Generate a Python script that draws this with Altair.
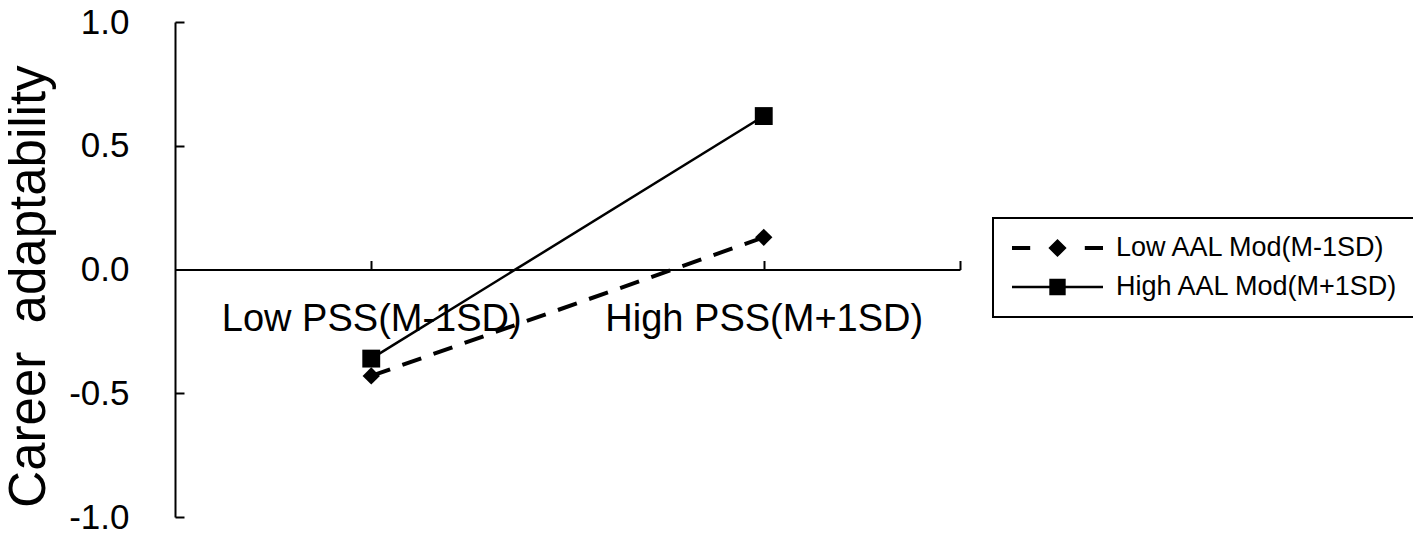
import altair as alt
import pandas as pd

# ---- data ----
categories = ["Low PSS(M-1SD)", "High PSS(M+1SD)"]
cat_pos = [0.5, 1.5]
series_names = ["Low AAL Mod(M-1SD)", "High AAL Mod(M+1SD)"]
low_aal = [-0.43, 0.13]
high_aal = [-0.36, 0.62]
y_ticks = [-1.0, -0.5, 0.0, 0.5, 1.0]
y_title = "Career\u00a0 adaptability"

rows = []
for s, vals in zip(series_names, [low_aal, high_aal]):
    for c, p, v in zip(categories, cat_pos, vals):
        rows.append({"series": s, "category": c, "pos": p, "value": v})
df = pd.DataFrame(rows)

FONT = "Liberation Sans"
W, H = 785, 495
zero_px = H / 2

x_scale = alt.Scale(domain=[0, 2], nice=False, zero=False)
y_scale = alt.Scale(domain=[-1, 1], nice=False, zero=False)

label_expr = (
    f"datum.value == {cat_pos[0]} ? '{categories[0]}' : "
    f"datum.value == {cat_pos[1]} ? '{categories[1]}' : ''"
)

x_axis_labels = alt.Axis(
    orient="bottom", offset=-zero_px, values=cat_pos, labelExpr=label_expr,
    ticks=False, tickSize=0, labelPadding=31, labelFontSize=38, labelFont=FONT,
    labelColor="black", domainColor="black", domainWidth=2, grid=False,
    title=None, labelFlush=False, labelOverlap=False, labelLimit=800,
)
x_axis_ticks = alt.Axis(
    orient="top", offset=-zero_px, values=[0.5, 1.5, 2.0], labels=False,
    domain=False, tickSize=9, tickWidth=2, tickColor="black", grid=False, title=None,
)
y_axis_labels = alt.Axis(
    orient="left", values=y_ticks, ticks=False, tickSize=0, labelPadding=46,
    labelExpr="(datum.value < 0 ? '-' : '') + format(abs(datum.value), '.1f')",
    labelFontSize=35, labelFont=FONT, labelColor="black",
    domainColor="black", domainWidth=2, grid=False,
    title=y_title, titleFont=FONT, titleFontSize=51, titleFontWeight="normal",
    titleColor="black", titleX=-120, titleY=264, titleLimit=800,
)
y_axis_ticks = alt.Axis(
    orient="right", offset=-W, values=[-1.0, -0.5, 0.5, 1.0], labels=False,
    domain=False, tickSize=9, tickWidth=2, tickColor="black", grid=False, title=None,
)

base = alt.Chart(df)

low_df = f"datum.series == '{series_names[0]}'"
high_df = f"datum.series == '{series_names[1]}'"

low_line = base.transform_filter(low_df).mark_line(
    color="black", strokeWidth=4, strokeDash=[20, 13]
).encode(
    x=alt.X("pos:Q", scale=x_scale, axis=x_axis_labels),
    y=alt.Y("value:Q", scale=y_scale, axis=y_axis_labels),
)
high_line = base.transform_filter(high_df).mark_line(
    color="black", strokeWidth=2.5
).encode(
    x=alt.X("pos:Q", scale=x_scale, axis=None),
    y=alt.Y("value:Q", scale=y_scale, axis=None),
)
low_pts = base.transform_filter(low_df).mark_point(
    shape="diamond", filled=True, color="black", size=300, opacity=1
).encode(
    x=alt.X("pos:Q", scale=x_scale, axis=None),
    y=alt.Y("value:Q", scale=y_scale, axis=None),
)
high_pts = base.transform_filter(high_df).mark_point(
    shape="square", filled=True, color="black", size=320, opacity=1
).encode(
    x=alt.X("pos:Q", scale=x_scale, axis=x_axis_ticks),
    y=alt.Y("value:Q", scale=y_scale, axis=y_axis_ticks),
)

# legend glyphs: filled outlines of line segment(s) plus marker
legend_paths = [
    "M-1,-0.045H-0.6V0.045H-1ZM0.6,-0.045H1V0.045H0.6ZM0,-0.2L0.2,0L0,0.2L-0.2,0Z",
    "M-1,-0.03H1V0.03H-1ZM-0.18,-0.18H0.18V0.18H-0.18Z",
]
legend = alt.Legend(
    orient="none", legendX=818, legendY=196, title=None,
    symbolSize=8281, symbolOffset=4, labelFont=FONT, labelFontSize=27, labelColor="black",
    labelOffset=13, strokeColor="black", padding=15, rowPadding=9,
    clipHeight=30, symbolFillColor="black", symbolStrokeWidth=0, labelLimit=600,
)
legend_layer = base.transform_filter("datum.pos > 100").mark_point(
    filled=True, color="black", opacity=1
).encode(
    x=alt.X("pos:Q", scale=x_scale, axis=None),
    y=alt.Y("value:Q", scale=y_scale, axis=None),
    shape=alt.Shape("series:N", scale=alt.Scale(domain=series_names, range=legend_paths), legend=legend),
)

chart = alt.layer(
    low_line, high_line, low_pts, high_pts, legend_layer
).resolve_axis(
    x="independent", y="independent"
).properties(
    width=W, height=H,
    autosize=alt.AutoSizeParams(type="none"),
    padding={"left": 167, "top": 14, "right": 453, "bottom": 17},
    background="white",
).configure_view(stroke=None).configure_legend(strokeWidth=2)

chart.save("out.html", embed_options={"renderer": "svg", "actions": False})
